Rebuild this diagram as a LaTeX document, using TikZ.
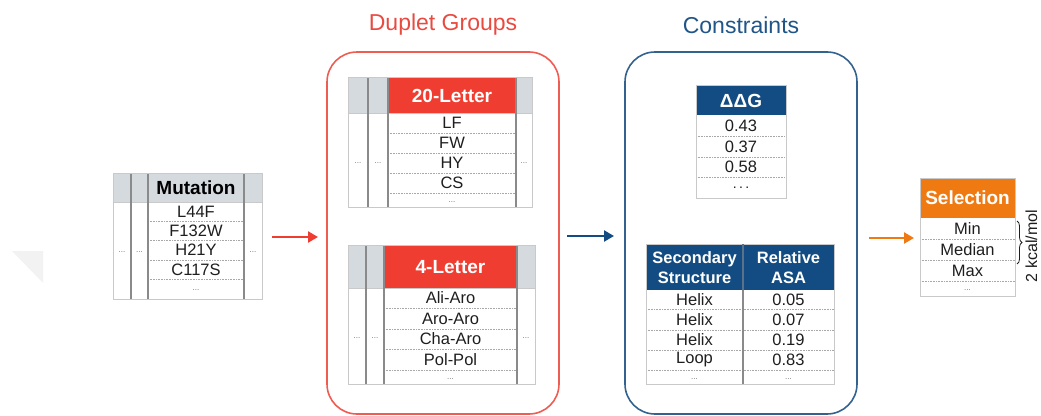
\documentclass[tikz,border=0pt]{standalone}
\usepackage{fontspec}
\setmainfont{Liberation Sans}
\usetikzlibrary{arrows.meta,decorations.pathreplacing}

\definecolor{txt}{HTML}{1E1E1E}
\definecolor{hdrgray}{HTML}{D5DADF}
\definecolor{framec}{HTML}{C9C9C9}
\definecolor{colc}{HTML}{8A8A8A}
\definecolor{rowc}{HTML}{A8A8A8}
\definecolor{dotc}{HTML}{707070}
\definecolor{dupred}{HTML}{EF3E31}
\definecolor{dupframe}{HTML}{EE5C52}
\definecolor{dupttl}{HTML}{E94A40}
\definecolor{conblue}{HTML}{124C82}
\definecolor{conframe}{HTML}{33628F}
\definecolor{conttl}{HTML}{215588}
\definecolor{selorange}{HTML}{F07A12}

\tikzset{
  cell/.style={inner sep=0pt, text=txt, font=\fontsize{16.5}{19}\selectfont},
  hdrtext/.style={inner sep=0pt, font=\bfseries\fontsize{19}{22}\selectfont},
  dots/.style={inner sep=0pt, text=dotc, font=\fontsize{8}{9}\selectfont},
  rowline/.style={draw=rowc, densely dotted, line width=0.6pt},
  colline/.style={draw=colc, line width=1.3pt},
  frameline/.style={draw=framec, line width=0.8pt},
  flow/.style={line width=2.4pt, -{Triangle[length=10pt,width=11pt]}},
  group/.style={rounded corners=30pt, line width=1.6pt, inner sep=0pt},
  grouptitle/.style={inner sep=0pt, font=\fontsize{23}{26}\selectfont}
}

\begin{document}
\begin{tikzpicture}[x=1pt,y=-1pt]
\useasboundingbox (0,0) rectangle (1041,415);

% faint corner mark on the left
\fill[gray!10] (12,251) -- (43,251) -- (43,283) -- cycle;

% ---------- Mutation table ----------
\fill[hdrgray] (113,173) rectangle (262,202);
\foreach \y in {221,240,260,279} \draw[rowline] (148,\y) -- (244,\y);
\draw[frameline] (113,202) -- (262,202);
\foreach \x in {131,148,244} \draw[colline] (\x,173) -- (\x,299);
\draw[frameline] (113,173) rectangle (262,299);
\node[hdrtext] (mh) at (196,188) {Mutation};
\node[cell] (m1) at (196,211.5) {L44F};
\node[cell] (m2) at (196,230.5) {F132W};
\node[cell] (m3) at (196,250) {H21Y};
\node[cell] (m4) at (196,269.5) {C117S};
\node[dots] (m5) at (196,290) {...};
\node[dots] (ml1) at (122,252) {...};
\node[dots] (ml2) at (139.5,252) {...};
\node[dots] (mr1) at (253,252) {...};

% ---------- Duplet Groups ----------
\node[grouptitle, text=dupttl] (dt) at (443,25) {Duplet Groups};
\node[group, draw=dupframe, minimum width=232pt, minimum height=362pt] (dup) at (443,233) {};

% 20-letter table
\fill[hdrgray] (348,77) rectangle (532,113);
\fill[dupred] (388,77) rectangle (516,113);
\foreach \y in {133,153,173,193} \draw[rowline] (388,\y) -- (516,\y);
\draw[frameline] (348,113) -- (532,113);
\foreach \x in {368,388,516} \draw[colline] (\x,77) -- (\x,207);
\draw[frameline] (348,77) rectangle (532,207);
\node[hdrtext, text=white] (th) at (452,96) {20-Letter};
\node[cell] (t1) at (452,123) {LF};
\node[cell] (t2) at (452,143) {FW};
\node[cell] (t3) at (452,163) {HY};
\node[cell] (t4) at (452,183) {CS};
\node[dots] (t5) at (452,202) {...};
\node[dots] (tl1) at (358,163) {...};
\node[dots] (tl2) at (378,163) {...};
\node[dots] (tr1) at (524,163) {...};

% 4-letter table
\fill[hdrgray] (348,245) rectangle (535,288);
\fill[dupred] (384,245) rectangle (517,288);
\foreach \y in {308,329,349,370} \draw[rowline] (384,\y) -- (517,\y);
\draw[frameline] (348,288) -- (535,288);
\foreach \x in {366,384,517} \draw[colline] (\x,245) -- (\x,384);
\draw[frameline] (348,245) rectangle (535,384);
\node[hdrtext, text=white] (fh) at (450.5,267) {4-Letter};
\node[cell] (f1) at (450.5,298) {Ali-Aro};
\node[cell] (f2) at (450.5,318.5) {Aro-Aro};
\node[cell] (f3) at (450.5,339) {Cha-Aro};
\node[cell] (f4) at (450.5,359.5) {Pol-Pol};
\node[dots] (f5) at (450.5,379) {...};
\node[dots] (fl1) at (357,338) {...};
\node[dots] (fl2) at (375,338) {...};
\node[dots] (fr1) at (526,338) {...};

% ---------- Constraints ----------
\node[grouptitle, text=conttl] (ct) at (741,25) {Constraints};
\node[group, draw=conframe, minimum width=232pt, minimum height=362pt] (con) at (741,233) {};

% DDG table
\fill[conblue] (696,85) rectangle (786,115);
\foreach \y in {136,157,177} \draw[rowline] (696,\y) -- (786,\y);
\draw[frameline] (696,85) rectangle (786,198);
\node[hdrtext, text=white] (gh) at (741,100.5) {ΔΔG};
\node[cell] (g1) at (741,125.5) {0.43};
\node[cell] (g2) at (741,146.5) {0.37};
\node[cell] (g3) at (741,167) {0.58};
\node[inner sep=0pt, text=txt, font=\fontsize{14}{16}\selectfont] (g4) at (741,188) {.\,.\,.};

% secondary structure / relative ASA table
\fill[conblue] (646,244) rectangle (834,290);
\foreach \y in {309,330,350,370} \draw[rowline] (646,\y) -- (834,\y);
\draw[frameline] (646,244) rectangle (834,384);
\draw[draw=colc!60!conblue, line width=1.3pt] (743,244) -- (743,290);
\draw[colline] (743,290) -- (743,384);
\node[hdrtext, text=white, align=center, font=\bfseries\fontsize{16.5}{19.5}\selectfont] (sh) at (694.5,267.5) {Secondary\\Structure};
\node[hdrtext, text=white, align=center, font=\bfseries\fontsize{16.5}{19.5}\selectfont] (rh) at (788.5,267.5) {Relative\\ASA};
\node[cell] (s1) at (694.5,299.5) {Helix};
\node[cell] (s2) at (694.5,319.5) {Helix};
\node[cell] (s3) at (694.5,340) {Helix};
\node[cell] (s4) at (694.5,360) {Loop};
\node[dots] (s5) at (694.5,379) {...};
\node[cell] (r1) at (788.5,299.5) {0.05};
\node[cell] (r2) at (788.5,319.5) {0.07};
\node[cell] (r3) at (788.5,340) {0.19};
\node[cell] (r4) at (788.5,360) {0.83};
\node[dots] (r5) at (788.5,379) {...};

% ---------- Selection table ----------
\fill[selorange] (920,178) rectangle (1015,218);
\foreach \y in {239,260,281} \draw[rowline] (920,\y) -- (1015,\y);
\draw[frameline] (920,178) rectangle (1015,296);
\node[hdrtext, text=white] (eh) at (967.5,198) {Selection};
\node[cell] (e1) at (967.5,228.5) {Min};
\node[cell] (e2) at (967.5,249.5) {Median};
\node[cell] (e3) at (967.5,270.5) {Max};
\node[dots] (e4) at (967.5,290) {...};

% range brace and its label
\coordinate (bt) at (1017,221);
\coordinate (bb) at (1017,264);
\draw[txt, line width=0.8pt, decorate, decoration={brace, amplitude=5pt}] (bt) -- (bb);
\node[inner sep=0pt, text=txt, font=\fontsize{16}{18}\selectfont, rotate=90] (kc) at (1031.5,246) {2 kcal/mol};

% ---------- flow arrows ----------
\coordinate (a1s) at (272,237);
\coordinate (a1e) at (318,237);
\coordinate (a2s) at (567,236);
\coordinate (a2e) at (614,236);
\coordinate (a3s) at (869,238);
\coordinate (a3e) at (914,238);
\draw[flow, draw=dupred, fill=dupred] (a1s) -- (a1e);
\draw[flow, draw=conblue, fill=conblue] (a2s) -- (a2e);
\draw[flow, draw=selorange, fill=selorange] (a3s) -- (a3e);
\end{tikzpicture}
\end{document}
